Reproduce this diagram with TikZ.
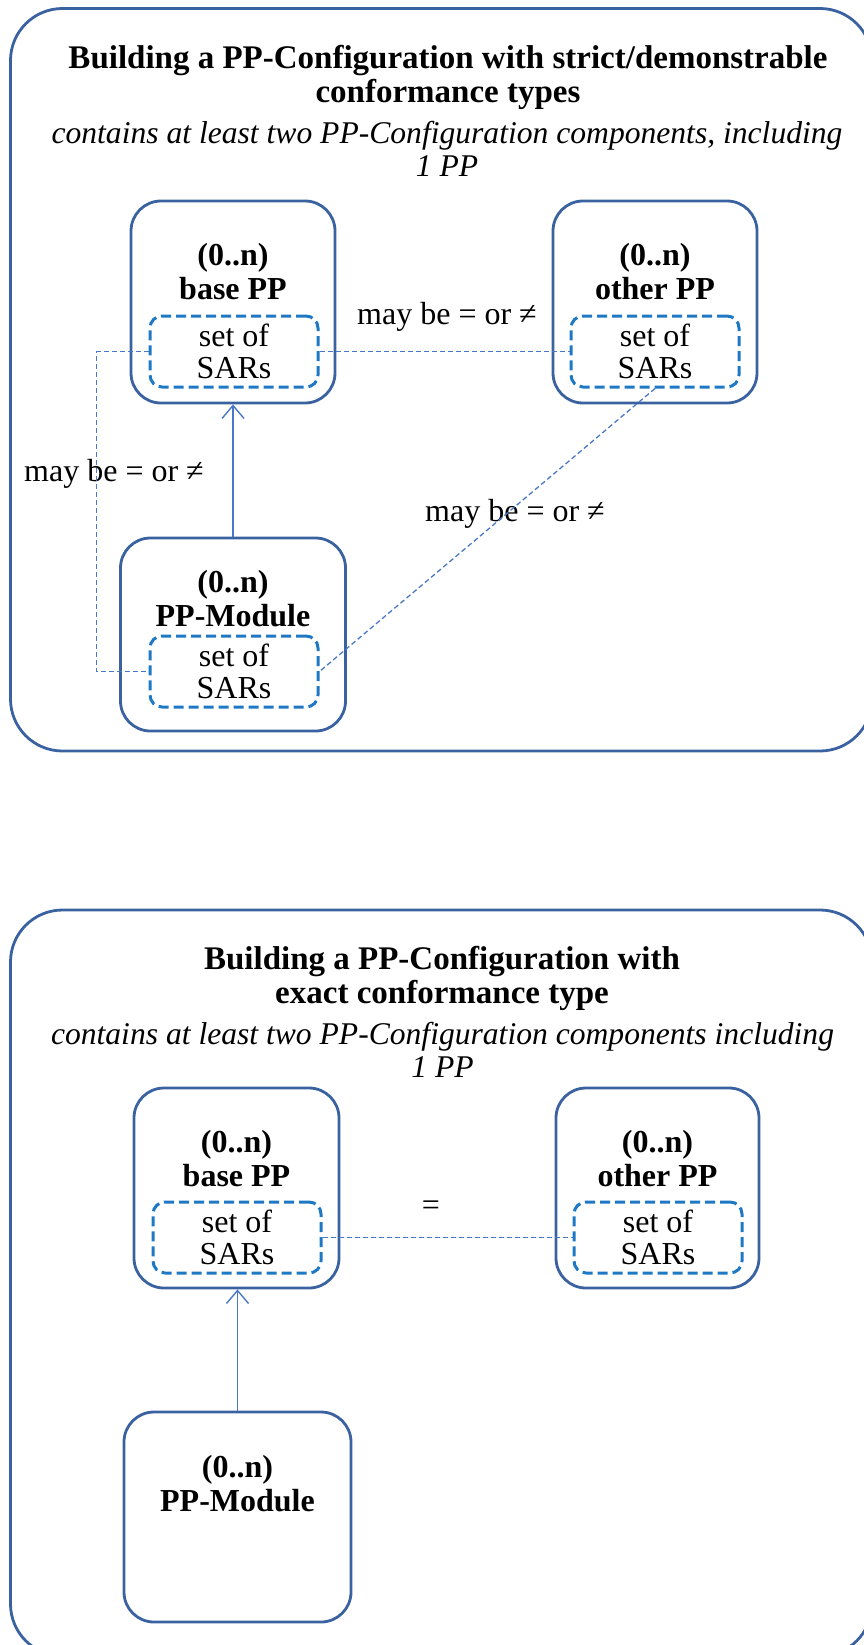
\documentclass[tikz,border=0pt]{standalone}
\usepackage{fontspec}
\setmainfont{Liberation Serif}
\usetikzlibrary{arrows.meta,positioning}

\definecolor{boxblue}{HTML}{3A62A0}
\definecolor{sarsblue}{HTML}{1F78C4}
\definecolor{linkblue}{HTML}{4A78C8}

\begin{document}
\begin{tikzpicture}[x=1pt,y=-1pt]

\tikzset{
  frame/.style={draw=boxblue, line width=2.8pt, rounded corners=52pt},
  ppbox/.style={draw=boxblue, line width=2.8pt, rounded corners=30pt, inner sep=0pt},
  sarsbox/.style={draw=sarsblue, line width=3pt, dash pattern=on 10pt off 5pt,
    rounded corners=12pt, minimum width=168pt, minimum height=71pt, inner sep=0pt,
    align=center, font=\fontsize{32}{32}\selectfont},
  heading/.style={align=center, inner sep=0pt, font=\fontsize{32}{34}\selectfont\bfseries},
  titletext/.style={align=center, inner sep=0pt, font=\fontsize{33}{34}\selectfont\bfseries},
  subtext/.style={align=center, inner sep=0pt, font=\fontsize{31.6}{33}\selectfont\itshape},
  note/.style={inner sep=0pt, font=\fontsize{32}{34}\selectfont},
  link/.style={draw=linkblue, line width=1.3pt, dash pattern=on 5pt off 3pt},
  uses/.style={draw=linkblue, line width=1.4pt, -{Straight Barb[length=13pt,width=22pt]}}
}

\useasboundingbox (0,0) rectangle (863,1645);

% strict / demonstrable
\draw[frame] (10.5,8.5) rectangle (872,751);
\node[titletext] (title1) at (448,77) {Building a PP-Configuration with strict/demonstrable\\conformance types};
\node[subtext] (sub1) at (447,148.5) {contains at least two PP-Configuration components, including\\1 PP};

\node[ppbox, minimum width=204pt, minimum height=202pt] (basepp) at (233,302) {};
\node[heading] (basehead) at (233,272) {(0..n)\\base PP};
\node[sarsbox] (basesars) at (234,351.5) {set of\\SARs};

\node[ppbox, minimum width=204pt, minimum height=202pt] (otherpp) at (655,302) {};
\node[heading] (otherhead) at (655,272) {(0..n)\\other PP};
\node[sarsbox] (othersars) at (655,351.5) {set of\\SARs};

\node[ppbox, minimum width=225pt, minimum height=193pt] (module) at (233,634.5) {};
\node[heading] (modulehead) at (233,598.5) {(0..n)\\PP-Module};
\node[sarsbox] (modulesars) at (234,671.5) {set of\\SARs};

\node[note] (eqtop) at (447,317) {may be = or ≠};
\node[note] (eqleft) at (114,474) {may be = or ≠};
\node[note] (eqdiag) at (515,514) {may be = or ≠};

\coordinate (leftbend) at (96.5,351.5);
\draw[link] (basesars.east) -- (othersars.west);
\draw[link] (basesars.west) -- (leftbend) |- (modulesars.west);
\draw[link] (othersars.south) -- (modulesars.east);
\draw[uses] (module.north) -- (module.north |- basepp.south);

% exact
\draw[frame] (10.5,910) rectangle (872,1656);
\node[titletext] (title2) at (442,978) {Building a PP-Configuration with\\exact conformance type};
\node[subtext] (sub2) at (442.5,1050) {contains at least two PP-Configuration components including\\1 PP};

\node[ppbox, minimum width=205pt, minimum height=200pt] (basepp2) at (236.5,1188) {};
\node[heading] (basehead2) at (236.5,1159) {(0..n)\\base PP};
\node[sarsbox] (basesars2) at (237,1237.5) {set of\\SARs};

\node[ppbox, minimum width=203pt, minimum height=200pt] (otherpp2) at (657.5,1188) {};
\node[heading] (otherhead2) at (657.5,1159) {(0..n)\\other PP};
\node[sarsbox] (othersars2) at (658,1237.5) {set of\\SARs};

\node[ppbox, minimum width=227pt, minimum height=210pt] (module2) at (237.5,1517) {};
\node[heading] (modulehead2) at (237.5,1483.5) {(0..n)\\PP-Module};

\node[note] (eqexact) at (431,1208) {=};

\draw[link] (basesars2.east) -- (othersars2.west);
\draw[uses] (module2.north) -- (module2.north |- basepp2.south);

\end{tikzpicture}
\end{document}
